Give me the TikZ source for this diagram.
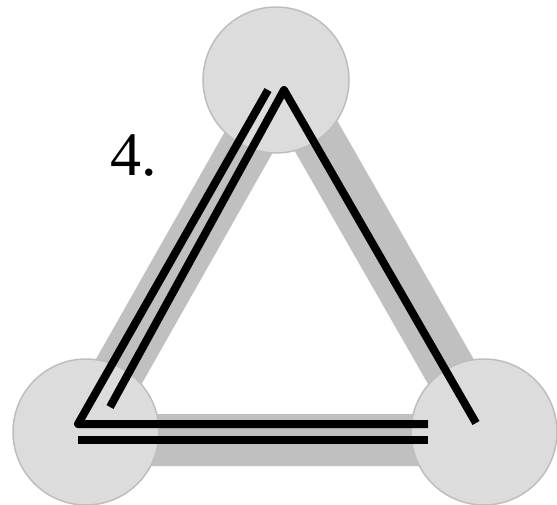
\documentclass[tikz,border=0pt]{standalone}
\usepackage{fontspec}
\setmainfont{Liberation Serif}
\definecolor{bandgray}{RGB}{192,192,192}
\definecolor{ringfill}{RGB}{220,220,220}
\definecolor{ringedge}{RGB}{190,190,190}
\tikzset{
  band/.style={draw=bandgray, line width=52pt, line join=round},
  ring/.style={circle, minimum size=146pt, inner sep=0pt, fill=ringfill, draw=ringedge, line width=1.5pt},
  strand/.style={draw=black, line width=8pt, line join=round}
}
\begin{document}
\begin{tikzpicture}[x=1pt, y=-1pt]
  \useasboundingbox (0,0) rectangle (557,504);
  % shadow bands under the rings
  \coordinate (Bt) at (284,80); \coordinate (Bl) at (80,440); \coordinate (Br) at (490,440);
  \draw[band] (Bt)--(Bl)--(Br)--cycle;
  % rings
  \node[ring] (top) at (276,80) {};
  \node[ring] (left) at (86,432) {};
  \node[ring] (right) at (484,432) {};
  % strand ends
  \coordinate (A1) at (476,423); \coordinate (A2) at (284,90); \coordinate (A3) at (110,407);
  \coordinate (P1) at (268,90); \coordinate (P2) at (78,424); \coordinate (P3) at (428,424);
  \coordinate (C1) at (78,440); \coordinate (C2) at (428,440);
  \draw[strand] (A1)--(A2)--(A3);
  \draw[strand] (P1)--(P2)--(P3);
  \draw[strand] (C1)--(C2);
  \node[anchor=base west, inner sep=0pt, font=\fontsize{62}{62}\selectfont] (label) at (110,175) {4.};
\end{tikzpicture}
\end{document}
